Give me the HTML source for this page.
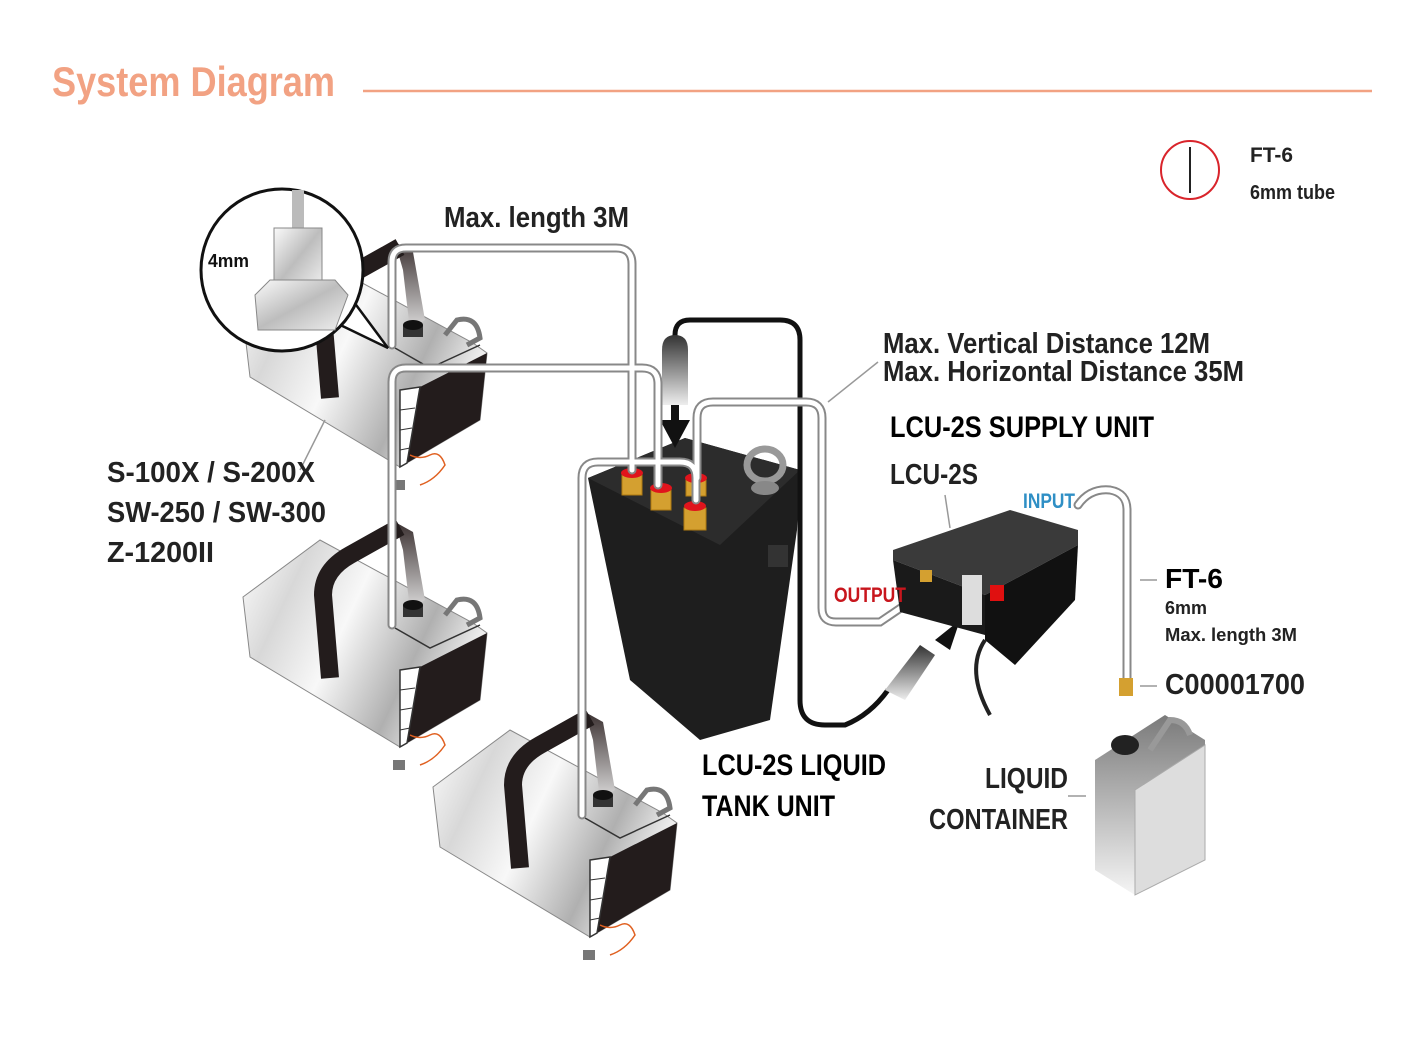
<!DOCTYPE html>
<html><head><meta charset="utf-8"><style>
html,body{margin:0;padding:0;background:#fff}
svg{display:block}
text{font-family:"Liberation Sans",sans-serif;font-weight:bold}
</style></head><body>
<svg width="1414" height="1038" viewBox="0 0 1414 1038" xmlns="http://www.w3.org/2000/svg">
<defs>
<linearGradient id="met" x1="0" y1="0" x2="1" y2="0.4">
<stop offset="0" stop-color="#ffffff"/><stop offset="0.25" stop-color="#d8d8d8"/><stop offset="0.5" stop-color="#f8f8f8"/><stop offset="0.8" stop-color="#b0b0b0"/><stop offset="1" stop-color="#eeeeee"/></linearGradient>
<linearGradient id="met2" x1="0" y1="0" x2="1" y2="1">
<stop offset="0" stop-color="#fafafa"/><stop offset="0.5" stop-color="#bdbdbd"/><stop offset="1" stop-color="#f0f0f0"/></linearGradient>
<linearGradient id="strap" x1="0" y1="0" x2="0" y2="1">
<stop offset="0" stop-color="#3a3030"/><stop offset="1" stop-color="#ddd"/></linearGradient>
<linearGradient id="cont" x1="0" y1="0" x2="0" y2="1">
<stop offset="0" stop-color="#7a7a7a"/><stop offset="1" stop-color="#f5f5f5"/></linearGradient>
<linearGradient id="plug" x1="0" y1="0" x2="0" y2="1">
<stop offset="0" stop-color="#333"/><stop offset="1" stop-color="#eee"/></linearGradient>
<g id="mach">
<polygon points="-2,27 75,-30 228,53 242,63 235,130 155,177 5,87" fill="url(#met)" stroke="#888" stroke-width="1"/>
<polygon points="175,97 242,63 235,130 162,173" fill="#231c1c"/>
<polygon points="155,100 175,97 162,173 155,177" fill="#fff" stroke="#333" stroke-width="1.5"/>
<line x1="155" y1="120" x2="170" y2="118" stroke="#333"/><line x1="155" y1="140" x2="167" y2="138" stroke="#333"/><line x1="155" y1="160" x2="165" y2="158" stroke="#333"/>
<polygon points="150,-48 168,-38 180,30 165,40 158,-20" fill="url(#strap)"/>
<path d="M85,108 L78,25 Q78,0 105,-15 L155,-43" fill="none" stroke="#231c1c" stroke-width="18"/>
<path d="M200,45 L212,30 Q232,25 235,48 L222,55" fill="none" stroke="#777" stroke-width="5"/>
<path d="M150,58 L185,78 L235,55" fill="none" stroke="#333" stroke-width="1.5"/>
<rect x="158" y="35" width="20" height="12" fill="#333"/><ellipse cx="168" cy="35" rx="10" ry="5" fill="#111"/>
<path d="M165,165 q10,5 20,0 q10,-5 15,10 q-10,15 -25,20" fill="none" stroke="#e06020" stroke-width="1.5"/>
<rect x="148" y="190" width="12" height="10" fill="#777"/>
</g>
</defs>

<text x="52" y="96" font-size="42" fill="#f2a283" textLength="283" lengthAdjust="spacingAndGlyphs">System Diagram</text>
<line x1="363" y1="91" x2="1372" y2="91" stroke="#f2a283" stroke-width="2.5"/>

<circle cx="1190" cy="170" r="29" fill="none" stroke="#d9242b" stroke-width="2"/>
<line x1="1190" y1="147" x2="1190" y2="193" stroke="#222" stroke-width="2"/>
<text x="1250" y="162" font-size="21" fill="#222" textLength="43" lengthAdjust="spacingAndGlyphs">FT-6</text>
<text x="1250" y="199" font-size="20" fill="#222" textLength="85" lengthAdjust="spacingAndGlyphs">6mm tube</text>

<use href="#mach" x="245" y="290"/>
<use href="#mach" x="245" y="570"/>
<use href="#mach" x="435" y="760"/>

<polygon points="588,478 685,438 800,470 797,530 770,720 700,740 630,680" fill="#1e1e1e"/>
<polygon points="588,478 685,438 800,470 720,545" fill="#2c2c2c"/>
<rect x="768" y="545" width="20" height="22" fill="#333"/>
<ellipse cx="765" cy="465" rx="18" ry="16" fill="none" stroke="#999" stroke-width="7"/>
<ellipse cx="765" cy="488" rx="14" ry="7" fill="#888"/>
<g fill="#d4a030" stroke="#b07a10">
<rect x="622" y="475" width="20" height="20"/><rect x="651" y="490" width="20" height="20"/>
<rect x="686" y="480" width="20" height="16"/><rect x="684" y="508" width="22" height="22"/></g>
<g fill="#e0141c"><ellipse cx="632" cy="473" rx="11" ry="5"/><ellipse cx="661" cy="488" rx="11" ry="5"/><ellipse cx="696" cy="478" rx="11" ry="5"/><ellipse cx="695" cy="506" rx="11" ry="5"/></g>

<path d="M675,348 V335 Q675,320 690,320 H780 Q800,320 800,340 V700 Q800,725 825,725 H845 Q870,715 888,690" fill="none" stroke="#111" stroke-width="5"/>
<path d="M662,350 Q662,335 675,335 Q688,335 688,350 V405 H662 Z" fill="url(#plug)"/>
<polygon points="660,420 690,420 675,448" fill="#111"/><rect x="671" y="405" width="8" height="16" fill="#111"/>
<polygon points="885,690 920,645 935,655 905,700" fill="url(#plug)"/>
<polygon points="935,640 960,620 950,650" fill="#111"/>
<path d="M985,640 q-20,30 5,75" fill="none" stroke="#222" stroke-width="4"/>

<g fill="none" stroke-linecap="round">
<g stroke="#888" stroke-width="9">
<path d="M392,345 V262 Q392,248 406,248 H616 Q632,248 632,264 V470"/>
<path d="M392,625 V382 Q392,368 406,368 H642 Q658,368 658,384 V485"/>
<path d="M582,815 V478 Q582,462 598,462 H680 Q696,462 696,478 V500"/>
<path d="M697,478 V418 Q697,402 713,402 H806 Q822,402 822,418 V608 Q822,622 836,622 H880 L905,605"/>
<path d="M1078,505 Q1090,488 1110,490 Q1127,493 1127,510 V680"/>
</g>
<g stroke="#fff" stroke-width="5">
<path d="M392,345 V262 Q392,248 406,248 H616 Q632,248 632,264 V470"/>
<path d="M392,625 V382 Q392,368 406,368 H642 Q658,368 658,384 V485"/>
<path d="M582,815 V478 Q582,462 598,462 H680 Q696,462 696,478 V500"/>
<path d="M697,478 V418 Q697,402 713,402 H806 Q822,402 822,418 V608 Q822,622 836,622 H880 L905,605"/>
<path d="M1078,505 Q1090,488 1110,490 Q1127,493 1127,510 V680"/>
</g></g>
<rect x="1119" y="678" width="14" height="18" fill="#d4a030"/>

<polygon points="893,550 1010,510 1078,530 1078,545 985,595 893,560" fill="#3a3a3a"/>
<polygon points="893,560 985,595 985,635 900,612" fill="#1a1a1a"/>
<polygon points="985,595 1078,545 1075,600 1015,665 985,640" fill="#111"/>
<rect x="962" y="575" width="20" height="50" fill="#ddd"/>
<rect x="990" y="585" width="14" height="16" fill="#e01010"/>
<rect x="920" y="570" width="12" height="12" fill="#d4a030"/>

<polygon points="1095,760 1165,715 1205,740 1205,860 1135,895 1095,870" fill="url(#cont)"/>
<polygon points="1135,790 1205,745 1205,860 1135,895" fill="#ddd" stroke="#aaa"/>
<ellipse cx="1125" cy="745" rx="14" ry="10" fill="#222"/>
<path d="M1150,750 l20,-30 q15,0 20,15" fill="none" stroke="#999" stroke-width="6"/>

<path d="M330,320 L388,348 L345,290 Z" fill="#fff" stroke="#111" stroke-width="2.5"/>
<circle cx="282" cy="270" r="81" fill="#fff" stroke="#111" stroke-width="3"/>
<rect x="292" y="190" width="12" height="42" fill="#bbb"/>
<rect x="274" y="228" width="48" height="60" fill="url(#met2)" stroke="#888"/>
<polygon points="255,295 270,280 335,280 348,295 335,330 258,330" fill="url(#met2)" stroke="#888"/>
<text x="208" y="267" font-size="18" fill="#111" textLength="41" lengthAdjust="spacingAndGlyphs">4mm</text>

<g stroke="#999" stroke-width="1.5">
<line x1="828" y1="402" x2="878" y2="362"/>
<line x1="1140" y1="580" x2="1157" y2="580"/>
<line x1="1140" y1="686" x2="1157" y2="686"/>
<line x1="1068" y1="796" x2="1086" y2="796"/>
<line x1="945" y1="495" x2="950" y2="528"/>
<line x1="300" y1="470" x2="325" y2="420"/>
</g>

<g fill="#222">
<text x="444" y="227" font-size="29" textLength="185" lengthAdjust="spacingAndGlyphs">Max. length 3M</text>
<text x="883" y="353" font-size="29" textLength="327" lengthAdjust="spacingAndGlyphs">Max. Vertical Distance 12M</text>
<text x="883" y="381" font-size="29" textLength="361" lengthAdjust="spacingAndGlyphs">Max. Horizontal Distance 35M</text>
<text x="890" y="437" font-size="30" fill="#000" textLength="264" lengthAdjust="spacingAndGlyphs">LCU-2S SUPPLY UNIT</text>
<text x="890" y="484" font-size="29" textLength="88" lengthAdjust="spacingAndGlyphs">LCU-2S</text>
<text x="107" y="482" font-size="29" textLength="208" lengthAdjust="spacingAndGlyphs">S-100X / S-200X</text>
<text x="107" y="522" font-size="29" textLength="219" lengthAdjust="spacingAndGlyphs">SW-250 / SW-300</text>
<text x="107" y="562" font-size="29" textLength="107" lengthAdjust="spacingAndGlyphs">Z-1200II</text>
<text x="702" y="775" font-size="30" fill="#000" textLength="184" lengthAdjust="spacingAndGlyphs">LCU-2S LIQUID</text>
<text x="702" y="816" font-size="30" fill="#000" textLength="133" lengthAdjust="spacingAndGlyphs">TANK UNIT</text>
<text x="985" y="788" font-size="29" textLength="83" lengthAdjust="spacingAndGlyphs">LIQUID</text>
<text x="929" y="829" font-size="29" textLength="139" lengthAdjust="spacingAndGlyphs">CONTAINER</text>
<text x="1165" y="588" font-size="28" fill="#000" textLength="58" lengthAdjust="spacingAndGlyphs">FT-6</text>
<text x="1165" y="614" font-size="18" textLength="42" lengthAdjust="spacingAndGlyphs">6mm</text>
<text x="1165" y="641" font-size="18" textLength="132" lengthAdjust="spacingAndGlyphs">Max. length 3M</text>
<text x="1165" y="694" font-size="29" textLength="140" lengthAdjust="spacingAndGlyphs">C00001700</text>
</g>
<text x="834" y="602" font-size="21" fill="#c8161d" textLength="72" lengthAdjust="spacingAndGlyphs">OUTPUT</text>
<text x="1023" y="508" font-size="21" fill="#2f8fc5" textLength="52" lengthAdjust="spacingAndGlyphs">INPUT</text>
</svg>
</body></html>
